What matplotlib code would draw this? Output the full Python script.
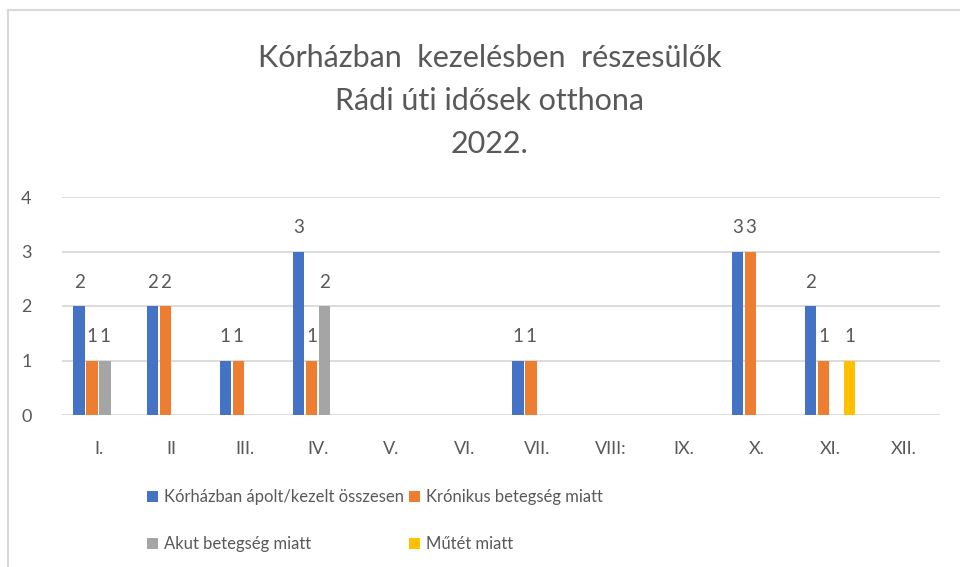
import matplotlib.pyplot as plt
from matplotlib.lines import Line2D
import numpy as np

plt.rcParams['font.family'] = ['Lato', 'DejaVu Sans']

# adatok
honapok = ['I.', 'II', 'III.', 'IV.', 'V.', 'VI.', 'VII.', 'VIII:', 'IX.', 'X.', 'XI.', 'XII.']
osszesen = [2, 2, 1, 3, 0, 0, 1, 0, 0, 3, 2, 0]
kronikus = [1, 2, 1, 1, 0, 0, 1, 0, 0, 3, 1, 0]
akut = [1, 0, 0, 2, 0, 0, 0, 0, 0, 0, 0, 0]
mutet = [0, 0, 0, 0, 0, 0, 0, 0, 0, 0, 1, 0]
sorozatok = ['Kórházban ápolt/kezelt összesen', 'Krónikus betegség miatt',
             'Akut betegség miatt', 'Műtét miatt']
szinek = ['#4472C4', '#ED7D31', '#A5A5A5', '#FFC000']

szurke = '#595959'

fig = plt.figure(figsize=(9.6, 5.67), dpi=100)
ax = fig.add_axes([62 / 960, 1 - 415 / 567, 878 / 960, 218 / 567])

x = np.arange(len(honapok))
slot = 0.178
szel = 0.155
bar_list = []
for i, (adat, nev, szin) in enumerate(zip([osszesen, kronikus, akut, mutet], sorozatok, szinek)):
    bars = ax.bar(x + (i - 1.5) * slot, adat, width=szel, color=szin, label=nev, zorder=3)
    ax.bar_label(bars, labels=[str(v) if v else '' for v in adat],
                 padding=11, color=szurke, fontsize=13.5)
    bar_list.append(bars)

ax.set_xlim(-0.5, len(honapok) - 0.5)
ax.set_ylim(0, 4)
ax.set_yticks(range(5))
ax.set_xticks(x)
ax.set_xticklabels(honapok)
ax.grid(axis='y', color='#D9D9D9', linewidth=1.3, zorder=0)
ax.tick_params(length=0, colors=szurke, labelsize=13)
ax.tick_params(axis='x', pad=19)
ax.tick_params(axis='y', pad=22)
for s in ax.spines.values():
    s.set_visible(False)

fig.text(490 / 960, 1 - 101 / 567,
         'Kórházban  kezelésben  részesülők\nRádi úti idősek otthona\n2022.',
         ha='center', va='center', fontsize=22, color=szurke, linespacing=1.65)

# sorrend: sorfolytonos jelmagyarázat
sorrend = [0, 2, 1, 3]
fig.legend([bar_list[i] for i in sorrend], [sorozatok[i] for i in sorrend],
           loc='upper left', bbox_to_anchor=(139 / 960, 1 - 481 / 567), ncol=2,
           frameon=False, fontsize=12, labelcolor=szurke, handlelength=0.65,
           handleheight=0.65, handletextpad=0.35, columnspacing=0.3, labelspacing=1.85,
           borderpad=0)

# keret
fig.add_artist(Line2D([8 / 960, 8 / 960], [0, 1 - 10 / 567], color='#D9D9D9', lw=1.5))
fig.add_artist(Line2D([8 / 960, 1], [1 - 10 / 567, 1 - 10 / 567], color='#D9D9D9', lw=1.5))

fig.savefig('out.png', dpi=100)
